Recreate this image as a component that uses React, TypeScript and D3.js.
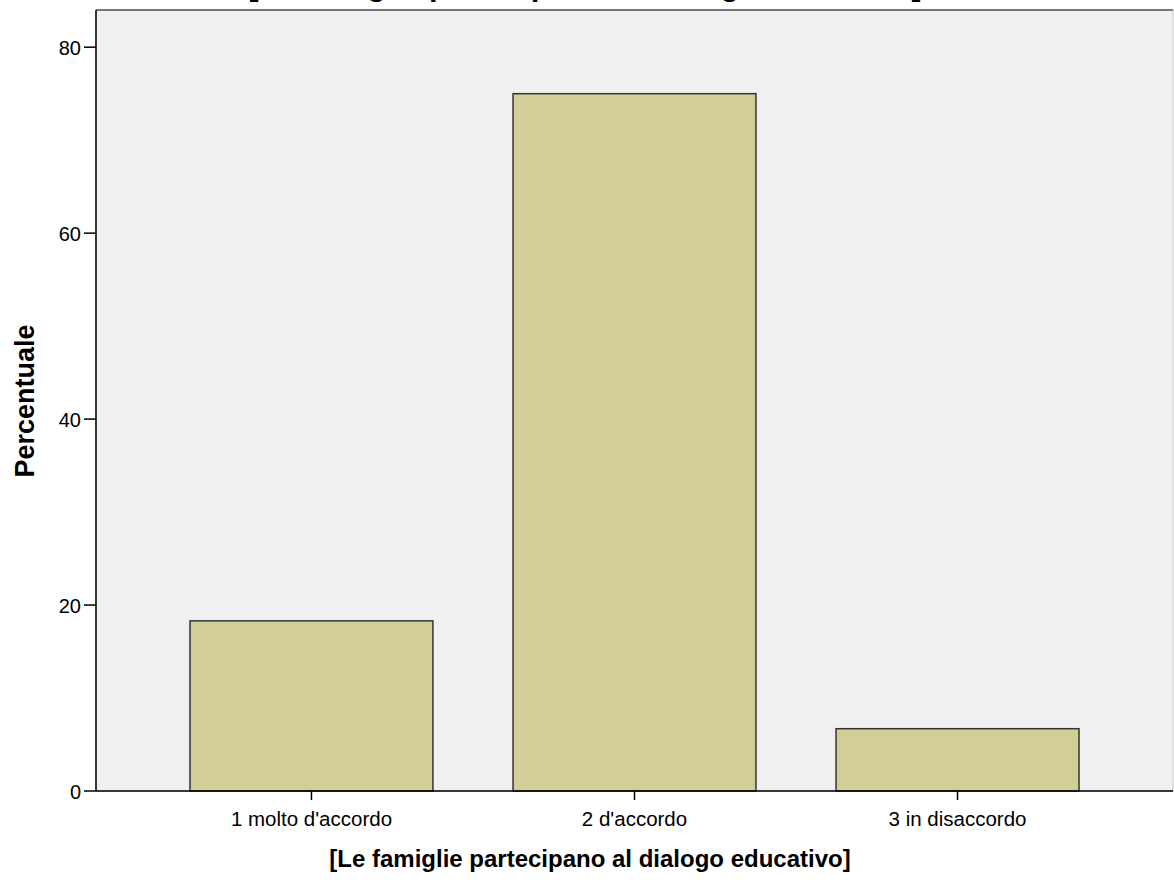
import React from "react";
import * as d3 from "d3";

const categories = ["1 molto d'accordo", "2 d'accordo", "3 in disaccordo"];
const percentages = [18.3, 75.0, 6.7];
const yTicks = [0, 20, 40, 60, 80];
const titleText = "[Le famiglie partecipano al dialogo educativo]";
const xAxisTitle = "[Le famiglie partecipano al dialogo educativo]";
const yAxisTitle = "Percentuale";

const W = 1174;
const H = 885;
const left = 96;
const right = 1173;
const top = 10;
const bottom = 791;

export default function App() {
  const x = d3
    .scaleBand<string>()
    .domain(categories)
    .range([left, right])
    .paddingInner(0.248)
    .paddingOuter(0.291);
  const y = d3.scaleLinear().domain([0, 84]).range([bottom, top]);
  const font = "'Liberation Sans', Arial, sans-serif";

  return (
    <svg
      width={W}
      height={H}
      style={{ position: "absolute", left: 0, top: 0, background: "#fff" }}
      fontFamily={font}
    >
      <text
        x={585}
        y={-4.8}
        textAnchor="middle"
        fontWeight="bold"
        fontSize={31}
        fill="#000"
      >
        {titleText}
      </text>
      <rect
        x={left}
        y={top}
        width={right - left}
        height={bottom - top}
        fill="#f0f0f0"
        stroke="#c8c8c8"
        strokeWidth={1}
      />
      <line x1={left} x2={right} y1={top} y2={top} stroke="#777" strokeWidth={2} />
      {categories.map((c, i) => (
        <rect
          key={c}
          x={x(c)!}
          y={y(percentages[i])}
          width={x.bandwidth()}
          height={bottom - y(percentages[i])}
          fill="#d3ce97"
          stroke="#333"
          strokeWidth={1.5}
        />
      ))}
      <line x1={left} x2={left} y1={top} y2={bottom} stroke="#000" strokeWidth={1.5} />
      <line x1={left} x2={right} y1={bottom} y2={bottom} stroke="#000" strokeWidth={1.5} />
      {yTicks.map((t) => (
        <g key={t}>
          <line x1={left - 12} x2={left} y1={y(t)} y2={y(t)} stroke="#000" strokeWidth={1.5} />
          <text
            x={left - 15}
            y={y(t)}
            dy="0.38em"
            textAnchor="end"
            fontSize={20}
            fill="#000"
          >
            {t}
          </text>
        </g>
      ))}
      {categories.map((c) => {
        const cx = x(c)! + x.bandwidth() / 2;
        return (
          <g key={c}>
            <line x1={cx} x2={cx} y1={bottom} y2={bottom + 9} stroke="#000" strokeWidth={1.5} />
            <text x={cx} y={826} textAnchor="middle" fontSize={20.5} fill="#000">
              {c}
            </text>
          </g>
        );
      })}
      <text
        x={590}
        y={867}
        textAnchor="middle"
        fontWeight="bold"
        fontSize={24}
        fill="#000"
      >
        {xAxisTitle}
      </text>
      <text
        transform="translate(34,401) rotate(-90)"
        textAnchor="middle"
        fontWeight="bold"
        fontSize={27}
        fill="#000"
      >
        {yAxisTitle}
      </text>
    </svg>
  );
}
